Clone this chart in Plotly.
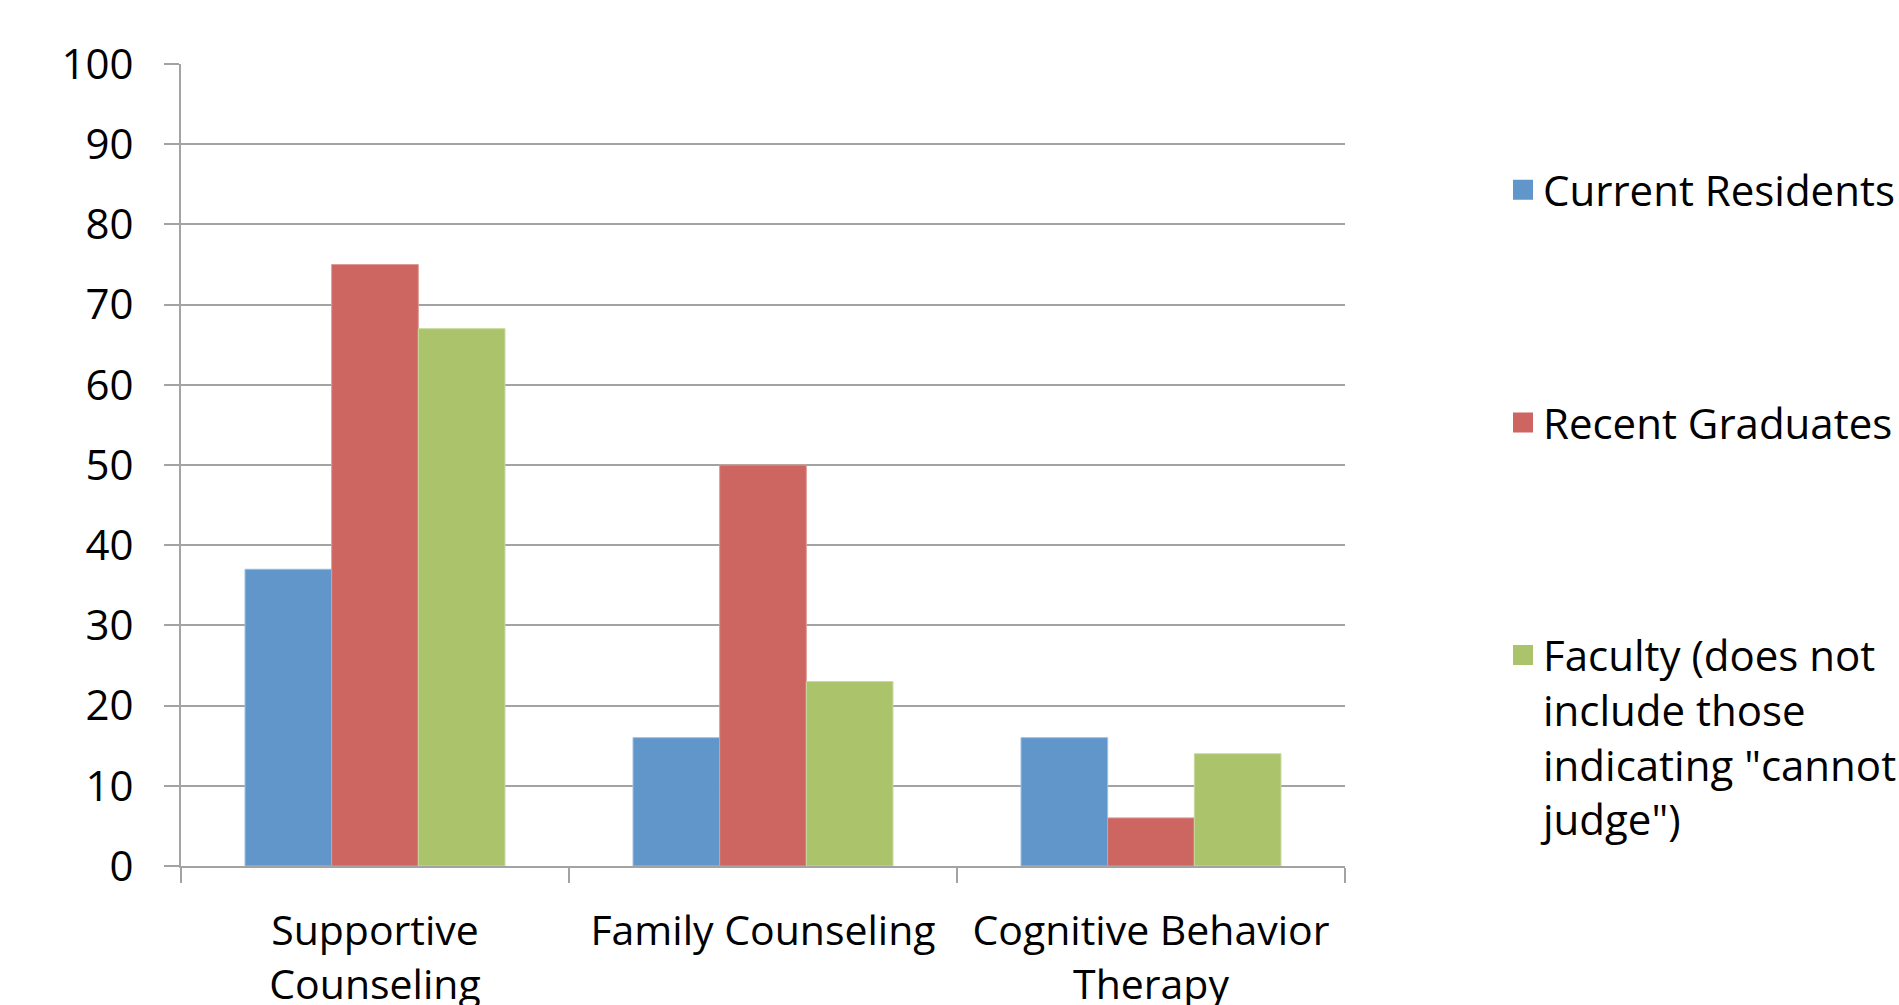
import plotly.graph_objects as go

# Survey results by therapy type
categories = ["Supportive<br>Counseling", "Family Counseling", "Cognitive Behavior<br>Therapy"]
current_residents = [37, 16, 16]
recent_graduates = [75, 50, 6]
faculty = [67, 23, 14]

series_names = [
    "Current Residents",
    "Recent Graduates",
    "Faculty (does not<br>include those<br>indicating \"cannot<br>judge\")",
]
colors = ["#6096C9", "#CD6660", "#ABC46C"]
edge_colors = ["#9DBEDF", "#DE9A96", "#C8D99C"]

y_ticks = list(range(0, 101, 10))

FONT = "Open Sans"
fig = go.Figure()
for i, (name, vals) in enumerate(zip(series_names, [current_residents, recent_graduates, faculty])):
    fig.add_trace(go.Bar(
        x=categories, y=vals, name=name,
        marker=dict(color=colors[i], line=dict(color=edge_colors[i], width=1)),
        legendgroup=f"g{i}", showlegend=False,
    ))
    # legend entry with a larger square swatch, linked to the bar series
    fig.add_trace(go.Scatter(
        x=[None], y=[None], mode="markers", name=name,
        marker=dict(symbol="square", size=20, color=colors[i],
                    line=dict(color=colors[i], width=4)),
        legendgroup=f"g{i}", showlegend=True, hoverinfo="skip",
    ))

fig.update_layout(
    width=1899, height=1005,
    paper_bgcolor="white", plot_bgcolor="white",
    margin=dict(l=181, r=554, t=64, b=139, autoexpand=False),
    barmode="group", bargap=0.33, bargroupgap=0,
    font=dict(family=FONT, size=41, color="black"),
    showlegend=True,
    legend=dict(
        xref="container", yref="container",
        x=1503 / 1899, y=1 - 156 / 1005, xanchor="left", yanchor="top",
        font=dict(family=FONT, size=42, color="black"),
        traceorder="grouped", tracegroupgap=175, valign="top",
        bgcolor="rgba(0,0,0,0)", maxheight=950, itemsizing="trace",
    ),
)
fig.update_yaxes(
    range=[0, 100], tickvals=y_ticks, ticktext=[str(v) for v in y_ticks],
    showgrid=True, gridcolor="#A3A3A3", gridwidth=2,
    showline=True, linecolor="#A3A3A3", linewidth=2,
    ticks="outside", ticklen=15, tickwidth=2, tickcolor="#A3A3A3",
    ticklabelstandoff=22, zeroline=False, automargin=False,
    tickfont=dict(family=FONT, size=42, color="black"),
)
fig.update_xaxes(
    showline=True, linecolor="#A3A3A3", linewidth=2,
    ticks="outside", ticklen=15, tickwidth=2, tickcolor="#A3A3A3",
    tickson="boundaries", showgrid=False, mirror=False,
    ticklabelstandoff=28, automargin=False,
    tickfont=dict(family=FONT, size=41, color="black"),
)

fig.write_html("out.html")
